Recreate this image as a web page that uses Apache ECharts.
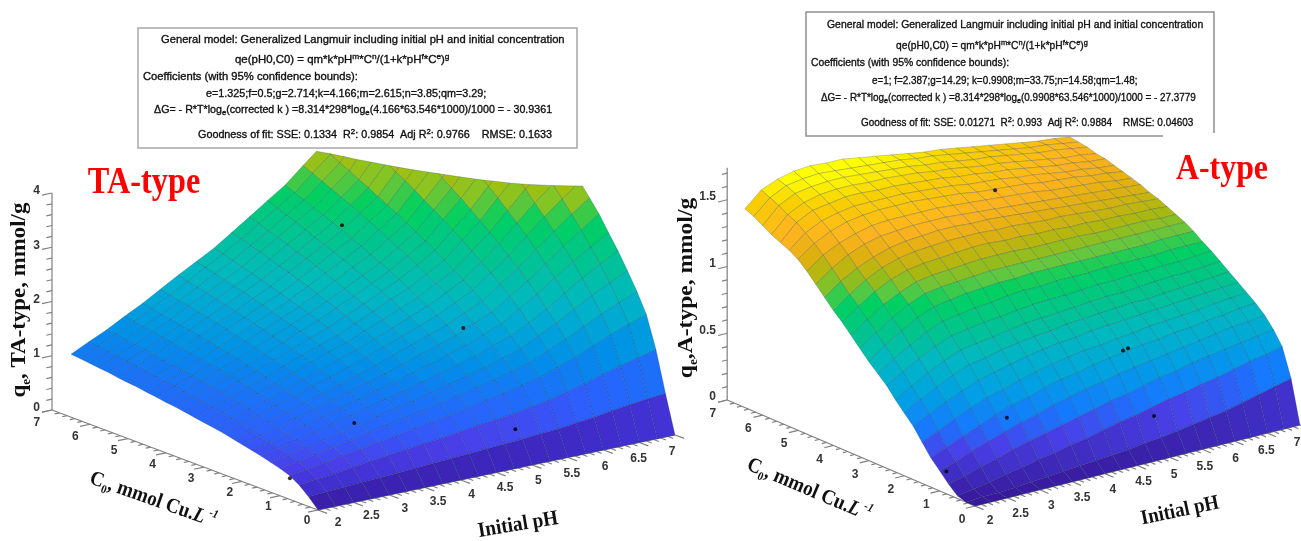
<!DOCTYPE html>
<html><head><meta charset="utf-8">
<style>html,body{margin:0;padding:0;background:#fff}#c{width:1301px;height:541px}</style>
<script src="https://cdn.jsdelivr.net/npm/echarts@6/dist/echarts.min.js"></script>
</head><body><div id="c"></div>
<script>
const pHGrid=[2,2.25,2.5,2.75,3,3.25,3.5,3.75,4,4.25,4.5,4.75,5,5.25,5.5,5.75,6,6.25,6.5,6.75,7];
const c0Grid=[0,.25,.5,.75,1,1.25,1.5,1.75,2,2.25,2.5,2.75,3,3.25,3.5,3.75,4,4.25,4.5,4.75,5,5.25,5.5,5.75,6,6.25,6.5];
// q_e, one row per C0, one column per pH
const surfaceTA=[
[0,0,0,0,0,0,0,0,0,0,0,0,0,0,0,0,0,0,0,0,0],
[.18,.20,.22,.24,.25,.27,.29,.31,.33,.35,.37,.39,.41,.44,.46,.50,.54,.59,.63,.67,.70],
[.33,.37,.40,.45,.49,.53,.57,.61,.64,.69,.73,.77,.81,.87,.92,1.01,1.09,1.19,1.28,1.36,1.44],
[.44,.49,.54,.60,.65,.71,.76,.82,.87,.93,.99,1.06,1.12,1.20,1.27,1.39,1.51,1.65,1.79,1.91,2.02],
[.50,.56,.62,.69,.75,.82,.88,.95,1.01,1.08,1.15,1.23,1.30,1.39,1.48,1.63,1.77,1.94,2.10,2.24,2.38],
[.55,.62,.69,.76,.83,.91,.98,1.05,1.12,1.21,1.29,1.38,1.46,1.57,1.67,1.84,2.00,2.19,2.38,2.54,2.70],
[.60,.68,.75,.83,.91,1.00,1.08,1.16,1.24,1.33,1.42,1.52,1.61,1.73,1.84,2.02,2.20,2.42,2.63,2.82,3.00],
[.64,.72,.80,.89,.98,1.07,1.16,1.25,1.33,1.43,1.53,1.64,1.74,1.87,2.00,2.21,2.41,2.64,2.87,3.07,3.27],
[.68,.77,.85,.95,1.04,1.14,1.23,1.33,1.42,1.53,1.64,1.75,1.86,2.01,2.15,2.37,2.58,2.84,3.09,3.32,3.55],
[.72,.81,.90,1.00,1.10,1.20,1.30,1.41,1.51,1.63,1.75,1.87,1.98,2.14,2.29,2.53,2.76,3.03,3.30,3.54,3.78],
[.76,.86,.95,1.06,1.16,1.27,1.37,1.48,1.59,1.72,1.84,1.97,2.10,2.26,2.42,2.67,2.92,3.21,3.50,3.76,4.01],
[.79,.89,.99,1.10,1.21,1.33,1.44,1.56,1.67,1.80,1.93,2.07,2.20,2.37,2.54,2.81,3.08,3.39,3.69,3.97,4.24],
[.82,.93,1.03,1.15,1.26,1.39,1.51,1.63,1.74,1.88,2.02,2.16,2.30,2.48,2.66,2.94,3.22,3.55,3.88,4.17,4.45],
[.85,.96,1.07,1.19,1.31,1.44,1.57,1.69,1.81,1.96,2.11,2.26,2.40,2.59,2.78,3.08,3.37,3.72,4.06,4.36,4.66],
[.88,1.00,1.11,1.24,1.36,1.50,1.63,1.76,1.88,2.03,2.18,2.34,2.49,2.69,2.89,3.20,3.51,3.87,4.22,4.54,4.86],
[.91,1.03,1.14,1.27,1.40,1.54,1.68,1.82,1.95,2.11,2.26,2.43,2.59,2.80,3.00,3.33,3.65,4.02,4.39,4.73,5.06],
[.93,1.06,1.18,1.32,1.45,1.59,1.73,1.87,2.01,2.17,2.33,2.50,2.67,2.89,3.10,3.44,3.77,4.16,4.55,4.90,5.24],
[.96,1.09,1.21,1.35,1.49,1.64,1.78,1.93,2.07,2.24,2.41,2.59,2.76,2.98,3.20,3.55,3.90,4.31,4.71,5.07,5.43],
[.98,1.11,1.24,1.39,1.53,1.68,1.83,1.98,2.13,2.31,2.49,2.67,2.84,3.08,3.31,3.67,4.02,4.44,4.86,5.24,5.61],
[1.01,1.14,1.27,1.42,1.57,1.73,1.88,2.04,2.19,2.37,2.55,2.74,2.92,3.16,3.40,3.78,4.15,4.58,5.01,5.40,5.78],
[1.03,1.17,1.30,1.46,1.61,1.77,1.93,2.09,2.25,2.44,2.62,2.82,3.01,3.25,3.49,3.88,4.26,4.71,5.16,5.56,5.95],
[1.05,1.19,1.33,1.49,1.65,1.82,1.98,2.14,2.30,2.49,2.68,2.88,3.08,3.34,3.59,3.98,4.37,4.84,5.30,5.71,6.12],
[1.08,1.22,1.36,1.52,1.68,1.85,2.02,2.19,2.35,2.55,2.75,2.96,3.16,3.42,3.67,4.08,4.49,4.96,5.43,5.86,6.29],
[1.10,1.25,1.39,1.56,1.72,1.90,2.07,2.24,2.41,2.62,2.82,3.03,3.23,3.50,3.77,4.19,4.60,5.09,5.57,6.01,6.45],
[1.12,1.27,1.42,1.59,1.75,1.93,2.11,2.29,2.46,2.67,2.87,3.09,3.30,3.58,3.85,4.28,4.71,5.21,5.71,6.16,6.61],
[1.14,1.30,1.45,1.62,1.79,1.97,2.15,2.34,2.52,2.73,2.94,3.16,3.37,3.66,3.94,4.38,4.81,5.33,5.84,6.31,6.77],
[1.16,1.32,1.47,1.65,1.82,2.01,2.20,2.38,2.56,2.78,3.00,3.23,3.45,3.74,4.02,4.47,4.92,5.45,5.97,6.45,6.92]];
const surfaceA=[
[0,0,0,0,0,0,0,0,0,0,0,0,0,0,0,0,0,0,0,0,0],
[0,.01,.01,.02,.03,.04,.05,.06,.07,.08,.09,.11,.12,.14,.16,.18,.20,.23,.26,.29,.32],
[.02,.04,.06,.09,.11,.14,.16,.19,.21,.24,.27,.29,.32,.35,.37,.40,.42,.45,.48,.50,.53],
[.08,.11,.15,.18,.22,.25,.28,.31,.34,.37,.40,.42,.45,.48,.50,.53,.55,.57,.59,.61,.63],
[.15,.19,.24,.28,.32,.36,.39,.43,.46,.49,.51,.54,.56,.58,.60,.62,.64,.66,.68,.69,.71],
[.22,.27,.32,.37,.42,.46,.49,.53,.56,.58,.61,.63,.65,.67,.68,.70,.71,.73,.74,.76,.77],
[.31,.36,.42,.47,.52,.55,.59,.62,.65,.67,.69,.70,.72,.73,.75,.76,.77,.78,.80,.81,.82],
[.40,.46,.52,.57,.62,.65,.68,.71,.73,.75,.76,.78,.79,.80,.81,.82,.83,.84,.85,.86,.87],
[.47,.54,.60,.66,.71,.73,.76,.78,.80,.81,.83,.84,.85,.86,.87,.87,.88,.89,.90,.91,.92],
[.54,.61,.68,.74,.79,.81,.83,.85,.87,.88,.89,.90,.91,.92,.92,.93,.94,.95,.95,.96,.97],
[.62,.69,.76,.82,.87,.89,.91,.92,.94,.95,.96,.96,.97,.98,.98,.99,.99,1.00,1.00,1.01,1.02],
[.68,.76,.83,.90,.95,.97,.99,1.00,1.02,1.03,1.03,1.04,1.04,1.04,1.05,1.05,1.05,1.05,1.06,1.06,1.06],
[.74,.83,.91,.98,1.03,1.05,1.07,1.08,1.09,1.09,1.10,1.10,1.10,1.10,1.10,1.10,1.10,1.10,1.11,1.11,1.11],
[.81,.90,.98,1.05,1.10,1.12,1.13,1.14,1.15,1.15,1.15,1.15,1.15,1.15,1.15,1.15,1.15,1.15,1.15,1.15,1.15],
[.88,.97,1.05,1.11,1.16,1.18,1.19,1.20,1.21,1.21,1.21,1.20,1.20,1.20,1.20,1.19,1.19,1.19,1.19,1.18,1.18],
[.95,1.04,1.12,1.18,1.22,1.24,1.25,1.26,1.27,1.27,1.26,1.26,1.25,1.25,1.24,1.24,1.23,1.23,1.22,1.22,1.21],
[1.01,1.10,1.18,1.24,1.28,1.30,1.31,1.32,1.32,1.32,1.31,1.31,1.30,1.29,1.29,1.28,1.27,1.26,1.26,1.25,1.24],
[1.08,1.17,1.24,1.29,1.33,1.35,1.36,1.37,1.37,1.36,1.36,1.35,1.34,1.33,1.32,1.31,1.30,1.29,1.28,1.27,1.26],
[1.15,1.24,1.31,1.36,1.39,1.40,1.41,1.41,1.41,1.40,1.39,1.38,1.37,1.36,1.35,1.34,1.33,1.32,1.31,1.30,1.29],
[1.22,1.31,1.37,1.41,1.44,1.45,1.45,1.45,1.45,1.44,1.43,1.42,1.41,1.40,1.39,1.37,1.36,1.35,1.34,1.32,1.31],
[1.28,1.37,1.43,1.47,1.49,1.50,1.50,1.50,1.49,1.48,1.47,1.45,1.44,1.43,1.42,1.40,1.39,1.38,1.36,1.35,1.33],
[1.32,1.42,1.48,1.51,1.53,1.53,1.53,1.53,1.52,1.51,1.50,1.48,1.47,1.46,1.44,1.43,1.41,1.39,1.38,1.36,1.35],
[1.35,1.47,1.53,1.55,1.57,1.57,1.56,1.56,1.55,1.54,1.53,1.51,1.50,1.48,1.47,1.45,1.43,1.41,1.40,1.38,1.37],
[1.38,1.50,1.56,1.59,1.60,1.60,1.59,1.59,1.58,1.57,1.55,1.54,1.52,1.50,1.49,1.47,1.45,1.43,1.41,1.40,1.38],
[1.42,1.54,1.60,1.62,1.63,1.63,1.62,1.61,1.60,1.59,1.57,1.56,1.54,1.52,1.51,1.49,1.47,1.45,1.44,1.42,1.40],
[1.46,1.57,1.63,1.65,1.66,1.65,1.64,1.63,1.62,1.61,1.59,1.58,1.56,1.54,1.52,1.50,1.48,1.46,1.45,1.43,1.41],
[1.49,1.60,1.65,1.68,1.69,1.68,1.68,1.66,1.64,1.62,1.60,1.58,1.57,1.55,1.53,1.51,1.49,1.47,1.45,1.44,1.42]];
// measured points [pH, C0, q_e]
const pointsTA=[[2,.74,.39],[3.2,1.3,.93],[4.95,.35,.58],[5.1,2,1.97],[5.05,5.1,3.06]];
const pointsA=[[2.05,.9,.15],[3.1,1.12,.40],[5,.45,.26],[5,1.33,.65],[5.1,1.37,.65],[5,4.94,1.44]];
const pHTicks=['2','2.5','3','3.5','4','4.5','5','5.5','6','6.5','7'];
const c0Ticks=['0','1','2','3','4','5','6','7'];
const qTicksTA=['0','1','2','3','4'];
const qTicksA=['0','0.5','1','1.5'];

const colorsTA=[[0,'#38189a'],[.25,'#3f2bc8'],[.5,'#4a3ee8'],[.8,'#2c60ff'],[1.1,'#1a72f8'],[1.5,'#0090e8'],[1.9,'#00a5d8'],[2.3,'#00b8c0'],[2.7,'#00c0a0'],[3.1,'#00c880'],[3.4,'#00d060'],[3.6,'#50c840'],[3.8,'#8cc420'],[4,'#b8b800']];
const colorsA=[[0,'#38189a'],[.12,'#3f2cc0'],[.25,'#4a40ea'],[.38,'#1678ff'],[.55,'#00a0e4'],[.75,'#00b8c0'],[.9,'#00c48c'],[1.05,'#00d060'],[1.12,'#60c840'],[1.2,'#a8b810'],[1.3,'#e0b010'],[1.4,'#ffb320'],[1.55,'#f8d000'],[1.65,'#ffff00']];

const viewTA={ox:318,oy:510,px:71.4,py:-15,cx:-38,cy:-14.29,qy:-54.25,ceil:3.95,colors:colorsTA,surface:surfaceTA,points:pointsTA,
  qTicks:qTicksTA,qMax:4,qMinor:.2,pl:[338,523,66.8,-14.2],cl:[307,521,-38.6,-14],ql:[40,408,-54.25]};
const viewA={ox:975,oy:506,px:65,py:-16.2,cx:-35.4,cy:-15.14,qy:-133.5,ceil:Infinity,colors:colorsA,surface:surfaceA,points:pointsA,
  qTicks:qTicksA,qMax:1.74,qMinor:.1,pl:[990,521,61.4,-15.6],cl:[962,520,-35.6,-15.2],ql:[716,397,-133.5]};

function project(v,pH,c,q){return [v.ox+v.px*(pH-2)+v.cx*c, v.oy+v.py*(pH-2)+v.cy*c+v.qy*q];}
function hex(c){return [1,3,5].map(i=>parseInt(c.substr(i,2),16));}
function colorOf(stops,q){
  if(q<=stops[0][0])return stops[0][1];
  for(let i=1;i<stops.length;i++){if(q<=stops[i][0]){
    const t=(q-stops[i-1][0])/(stops[i][0]-stops[i-1][0]),a=hex(stops[i-1][1]),b=hex(stops[i][1]);
    return 'rgb('+a.map((x,k)=>Math.round(x+(b[k]-x)*t)).join(',')+')';}}
  return stops[stops.length-1][1];
}
function clipCell(pts,ceil){
  const out=[];
  for(let i=0;i<pts.length;i++){const a=pts[i],b=pts[(i+1)%pts.length];
    const ia=a[2]<=ceil,ib=b[2]<=ceil;
    if(ia)out.push(a);
    if(ia!==ib){const t=(ceil-a[2])/(b[2]-a[2]);out.push([a[0]+(b[0]-a[0])*t,a[1]+(b[1]-a[1])*t,ceil]);}
  }
  return out;
}
function surfaceSeries(v){
  const data=[];
  for(let j=c0Grid.length-2;j>=0;j--)for(let i=pHGrid.length-2;i>=0;i--)data.push([i,j]);
  return {type:'custom',coordinateSystem:'cartesian2d',silent:true,z:2,data,
    renderItem(params,api){
      const i=api.value(0),j=api.value(1),S=v.surface;
      const raw=[[i,j],[i+1,j],[i+1,j+1],[i,j+1]].map(([a,b])=>[pHGrid[a],c0Grid[b],S[b][a]]);
      const pts=clipCell(raw,v.ceil);
      if(pts.length<3)return null;
      const mean=pts.reduce((s,p)=>s+p[2],0)/pts.length;
      const col=colorOf(v.colors,mean);
      return {type:'polygon',shape:{points:pts.map(p=>api.coord(project(v,p[0],p[1],p[2])))},
        style:{fill:col,stroke:'rgba(0,45,70,0.3)',lineWidth:.7}};
    }};
}
function axisSegments(v){
  const seg=[];
  const add=(a,b)=>seg.push([...project(v,...a),...project(v,...b)]);
  add([2,0,0],[7,0,0]); add([2,0,0],[2,7,0]); add([2,7,0],[2,7,v.qMax]);
  for(let k=0;k<=50;k++){const p=2+k*.1,maj=k%5===0;add([p,0,0],[p,maj?-.24:-.14,0]);}
  for(let k=0;k<=35;k++){const c=k*.2,maj=k%5===0;add([2,c,0],[maj?1.86:1.93,c,0]);}
  const n=Math.floor(v.qMax/v.qMinor+1e-6);
  for(let k=0;k<=n;k++){const q=k*v.qMinor,maj=Math.abs(q/(v.qMinor*5)-Math.round(q/(v.qMinor*5)))<1e-6;add([2,7,q],[maj?1.86:1.92,7,q]);}
  return {type:'custom',coordinateSystem:'cartesian2d',silent:true,z:1,data:seg,
    renderItem(params,api){
      const a=api.coord([api.value(0),api.value(1)]),b=api.coord([api.value(2),api.value(3)]);
      return {type:'line',shape:{x1:a[0],y1:a[1],x2:b[0],y2:b[1]},style:{stroke:'#808080',lineWidth:1.2}};
    }};
}
function tickLabels(v){
  const rows=[];
  pHTicks.forEach(t=>{const d=+t-2;rows.push([v.pl[0]+v.pl[2]*d,v.pl[1]+v.pl[3]*d,t,'center']);});
  c0Ticks.forEach(t=>{const d=+t;rows.push([v.cl[0]+v.cl[2]*d,v.cl[1]+v.cl[3]*d,t,'center']);});
  v.qTicks.forEach(t=>{rows.push([v.ql[0],v.ql[1]+v.ql[2]*(+t),t,'right']);});
  return {type:'custom',coordinateSystem:'cartesian2d',silent:true,z:3,data:rows.map((r,i)=>[r[0],r[1],i]),
    renderItem(params,api){
      const r=rows[api.value(2)],p=api.coord([r[0],r[1]]);
      return {type:'text',x:p[0],y:p[1],style:{text:r[2],fill:'#333',font:'bold 12px "Liberation Sans"',textAlign:r[3],textVerticalAlign:'middle'}};
    }};
}
function pointSeries(v){
  return {type:'scatter',z:5,silent:true,symbolSize:4,itemStyle:{color:'#000'},data:v.points.map(p=>project(v,...p))};
}

const sans='"Liberation Sans"',serif='"Liberation Serif"';
const small={s:{fontFamily:sans,fontSize:8,verticalAlign:'top',lineHeight:14,fill:'#111'},d:{fontFamily:sans,fontSize:8,verticalAlign:'bottom',lineHeight:14,fill:'#111'},n:{fontFamily:sans,fontSize:11,lineHeight:14,fill:'#111'}};
function boxLine(x,y,str,sx){
  return {type:'text',x,y,scaleX:sx,z:1,silent:true,style:{text:str,font:'11px '+sans,fill:'#111',stroke:'#111',lineWidth:.35,textVerticalAlign:'middle',verticalAlign:'middle',rich:small}};
}
function n(t){return '{n|'+t+'}';}
function lines(pos,txt){return txt.map((t,i)=>boxLine(pos[i][0],pos[i][1],t,pos[i][2]));}
const txtTA=[
 n('General model: Generalized Langmuir including initial pH and initial concentration'),
 n('qe(pH0,C0) = qm*k*pH')+'{s|m}'+n('*C')+'{s|n}'+n('/(1+k*pH')+'{s|f}'+n('*C')+'{s|e}'+n(')')+'{s|g}',
 n('Coefficients (with 95% confidence bounds):'),
 n('e=1.325;f=0.5;g=2.714;k=4.166;m=2.615;n=3.85;qm=3.29;'),
 n('ΔG= - R*T*log')+'{d|e}'+n('(corrected k ) =8.314*298*log')+'{d|e}'+n('(4.166*63.546*1000)/1000 = - 30.9361'),
 n('Goodness of fit: SSE: 0.1334  R')+'{s|2}'+n(': 0.9854  Adj R')+'{s|2}'+n(': 0.9766    RMSE: 0.1633')];
const txtA=[
 txtTA[0],txtTA[1],txtTA[2],
 n('e=1; f=2.387;g=14.29; k=0.9908;m=33.75;n=14.58;qm=1.48;'),
 n('ΔG= - R*T*log')+'{d|e}'+n('(corrected k ) =8.314*298*log')+'{d|e}'+n('(0.9908*63.546*1000)/1000 = - 27.3779'),
 n('Goodness of fit: SSE: 0.01271  R')+'{s|2}'+n(': 0.993  Adj R')+'{s|2}'+n(': 0.9884    RMSE: 0.04603')];
const posTA=[[161,40,1.017],[235,60,1.04],[143,77,1.02],[206,94,.98],[154,110,.97],[198,135,.98]];
const posA=[[827,25,.948],[896,46,.93],[811,63,.94],[872,81,.90],[821,98,.90],[861,123,.905]];

const rs={b:{fontFamily:serif,fontWeight:'bold',fontSize:21,lineHeight:26,fill:'#111'},sb:{fontFamily:serif,fontWeight:'bold',fontSize:12,lineHeight:26,verticalAlign:'bottom',fill:'#111'},
 i:{fontFamily:serif,fontWeight:'bold',fontStyle:'italic',fontSize:21,lineHeight:26,fill:'#111'},si:{fontFamily:serif,fontWeight:'bold',fontStyle:'italic',fontSize:12,lineHeight:26,verticalAlign:'top',fill:'#111'}};
function axisTitle(x,y,deg,str,sx){return {type:'text',x,y,rotation:deg*Math.PI/180,scaleX:sx||1,z:6,silent:true,style:{text:str,rich:rs,align:'center',verticalAlign:'middle',textAlign:'center',textVerticalAlign:'middle',font:'bold 21px '+serif}};}
function redTitle(x,y,t,size,sx){return {type:'text',x,y,scaleX:sx,z:6,silent:true,style:{text:t,font:'bold '+size+'px '+serif,fill:'#ff0000',textAlign:'center',textVerticalAlign:'middle'}};}
const border={stroke:'#a8a8a8',lineWidth:1.5};

const chart=echarts.init(document.getElementById('c'),null,{renderer:'canvas'});
chart.setOption({
  animation:false,backgroundColor:'#fff',
  grid:{left:0,right:0,top:0,bottom:0},
  xAxis:{type:'value',min:0,max:1301,show:false},
  yAxis:{type:'value',min:0,max:541,inverse:true,show:false},
  series:[axisSegments(viewTA),axisSegments(viewA),surfaceSeries(viewTA),surfaceSeries(viewA),tickLabels(viewTA),tickLabels(viewA),pointSeries(viewTA),pointSeries(viewA)],
  graphic:[
   {type:'rect',z:0,silent:true,shape:{x:138,y:28,width:439,height:120},style:{fill:'#fff',...border}},
   {type:'polyline',z:0,silent:true,shape:{points:[[1163,136],[806,136],[806,12],[1214,12],[1214,133]]},style:{fill:'#fff',...border,stroke:'#909090'}},
   ...lines(posTA,txtTA),
   ...lines(posA,txtA),
   redTitle(144,183,'TA-type',38,.85),
   redTitle(1222,170,'A-type',36,.885),
   axisTitle(20,300,90,'{b|q}{sb|e}{b|, TA-type, mmol/g}',1.09),
   axisTitle(687,288,90,'{b|q}{sb|e}{b|,A-type, mmol/g}',1.12),
   axisTitle(153,500,-19.5,'{b|C}{sb|0}{b|, mmol Cu.}{i|L}{si| -1}',.91),
   axisTitle(809,490,-23,'{b|C}{sb|0}{b|, mmol Cu.}{i|L}{si| -1}',.91),
   axisTitle(518,525,9.3,'{b|Initial pH}',.92),
   axisTitle(1180,511,11.8,'{b|Initial pH}',.9)
  ]
});
</script></body></html>
